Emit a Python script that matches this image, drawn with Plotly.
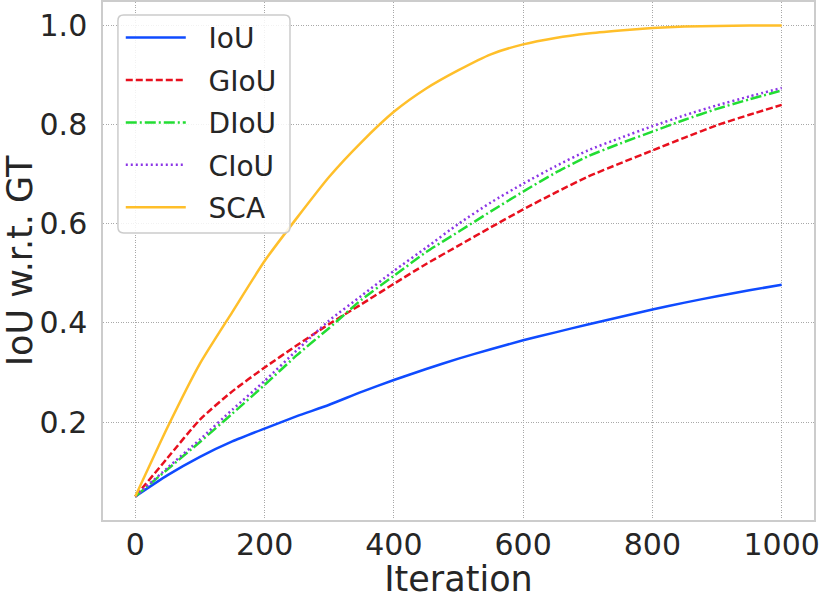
import plotly.graph_objects as go

# iterations
iters = [0, 50, 100, 150, 200, 250, 300, 350, 400, 450, 500,
         550, 600, 650, 700, 750, 800, 850, 900, 950, 1000]

iou = [0.05, 0.093, 0.13, 0.161, 0.187, 0.212, 0.235, 0.261, 0.285, 0.307, 0.328,
       0.347, 0.365, 0.381, 0.397, 0.412, 0.427, 0.441, 0.454, 0.466, 0.477]
giou = [0.05, 0.128, 0.205, 0.262, 0.31, 0.355, 0.398, 0.438, 0.479, 0.519, 0.556,
        0.593, 0.629, 0.663, 0.695, 0.722, 0.748, 0.774, 0.799, 0.82, 0.84]
diou = [0.05, 0.105, 0.16, 0.217, 0.275, 0.335, 0.39, 0.447, 0.495, 0.543, 0.584,
        0.625, 0.665, 0.703, 0.736, 0.762, 0.786, 0.81, 0.832, 0.851, 0.869]
ciou = [0.05, 0.108, 0.165, 0.225, 0.283, 0.345, 0.405, 0.455, 0.505, 0.552, 0.6,
        0.643, 0.681, 0.716, 0.748, 0.773, 0.797, 0.819, 0.839, 0.857, 0.874]
sca = [0.05, 0.19, 0.318, 0.422, 0.525, 0.612, 0.695, 0.765, 0.826, 0.873, 0.91,
       0.942, 0.962, 0.975, 0.984, 0.99, 0.995, 0.998, 0.999, 1.0, 1.0]

series = [
    ("IoU", iou, "#0f4bff", "solid"),
    ("GIoU", giou, "#e8101e", "7px,3px"),
    ("DIoU", diou, "#22dd33", "11px,3px,2px,3px"),
    ("CIoU", ciou, "#8b35e6", "2px,3px"),
    ("SCA", sca, "#ffbf2a", "solid"),
]

fig = go.Figure()
for name, vals, col, dash in series:
    fig.add_trace(go.Scatter(x=iters, y=vals, mode="lines", name="\u00a0\u00a0" + name,
                             legendgroup=name,
                             line=dict(color=col, width=2.5, dash=dash,
                                       shape="spline", smoothing=0.6)))

axis_style = dict(showline=True, mirror=True, linecolor="#cccccc", linewidth=1.5,
                  showgrid=True, gridcolor="#a8a8a8", gridwidth=1, griddash="1px,1.5px",
                  zeroline=False, ticks="", tickfont=dict(size=30, color="#262626"))

fig.update_xaxes(range=[-50, 1050], tickvals=[0, 200, 400, 600, 800, 1000],
                 title=dict(text="Iteration", font=dict(size=35, color="#262626"), standoff=10),
                 ticklabelstandoff=-3, **axis_style)
fig.update_yaxes(range=[0.0025, 1.0475], tickvals=[0.2, 0.4, 0.6, 0.8, 1.0],
                 tickformat=".1f",
                 title=dict(text="IoU w.r.t. GT", font=dict(size=35, color="#262626"), standoff=6),
                 ticklabelstandoff=8, **axis_style)

# legend frame with rounded corners (paper coords of plot area)
x0, x1, y0, y1 = 0.021, 0.263, 0.554, 0.975
r = 0.008
ry = r * 711 / 519
fig.add_shape(type="path", xref="paper", yref="paper",
              path=(f"M {x0 + r},{y0} L {x1 - r},{y0} Q {x1},{y0} {x1},{y0 + ry} "
                    f"L {x1},{y1 - ry} Q {x1},{y1} {x1 - r},{y1} L {x0 + r},{y1} "
                    f"Q {x0},{y1} {x0},{y1 - ry} L {x0},{y0 + ry} Q {x0},{y0} {x0 + r},{y0} Z"),
              fillcolor="rgba(255,255,255,0.85)", line=dict(color="#cccccc", width=1.5),
              layer="above")

fig.update_layout(
    width=822, height=599,
    margin=dict(l=103, r=8, t=2, b=79, autoexpand=False),
    paper_bgcolor="white", plot_bgcolor="white",
    font=dict(family="DejaVu Sans", color="#262626"),
    legend=dict(x=0.025, y=0.979, xanchor="left", yanchor="top",
                bgcolor="rgba(0,0,0,0)", borderwidth=0, tracegroupgap=3,
                font=dict(size=28), itemwidth=60),
)

fig.write_html("out.html", config={"displayModeBar": False},
               post_script="document.body.style.margin='0';")
